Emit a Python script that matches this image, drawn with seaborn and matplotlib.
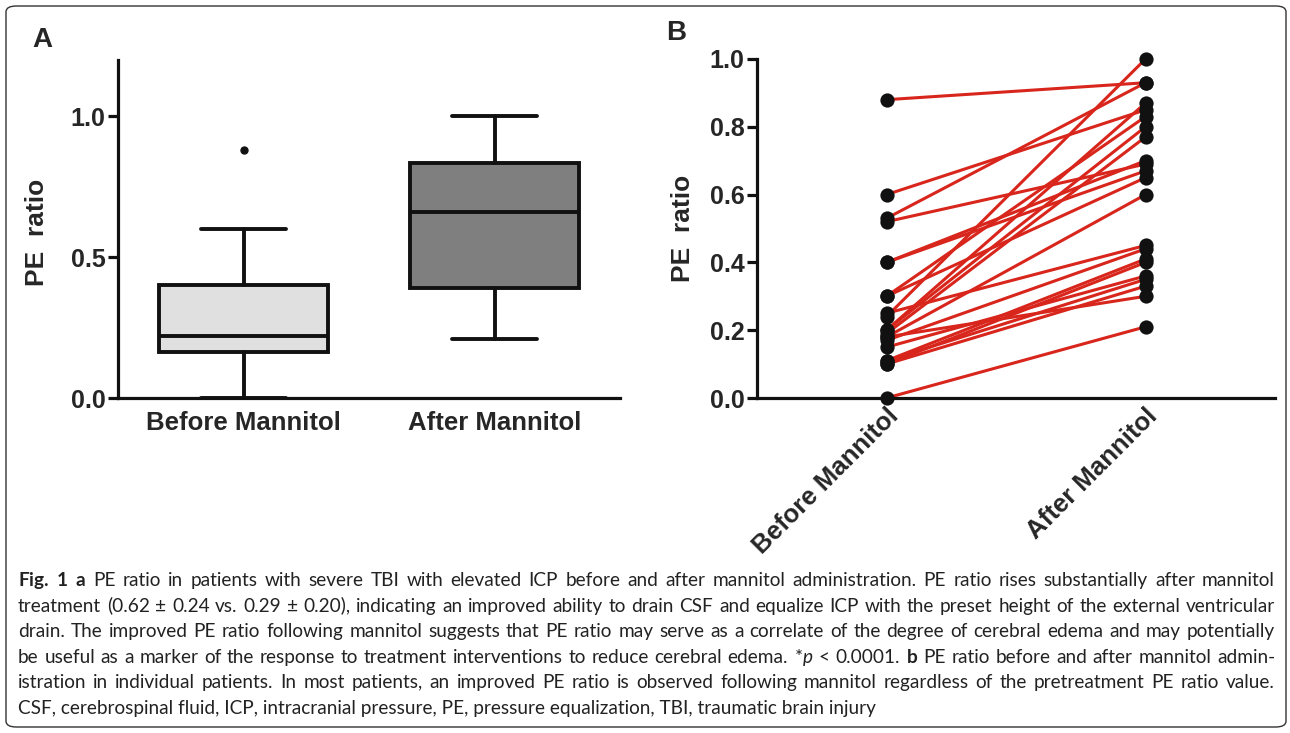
import numpy as np
import pandas as pd
import seaborn as sns
import matplotlib
matplotlib.use('Agg')
from matplotlib import pyplot as plt
from matplotlib.patches import FancyBboxPatch

groups = ['Before Mannitol', 'After Mannitol']

# panel A - box summary
box_low = [0.00, 0.21]
box_q1 = [0.165, 0.39]
box_med = [0.22, 0.66]
box_q3 = [0.40, 0.835]
box_high = [0.60, 1.00]
box_fliers = [[0.88], []]
box_colors = ['#e0e0e0', '#7f7f7f']

# panel B - paired values per patient
before = [0.88, 0.60, 0.53, 0.52, 0.40, 0.40, 0.30, 0.30, 0.25, 0.24, 0.20,
          0.20, 0.19, 0.18, 0.18, 0.17, 0.15, 0.11, 0.11, 0.10, 0.10, 0.00]
after = [0.93, 0.85, 0.93, 0.69, 0.70, 0.67, 0.83, 0.65, 0.45, 1.00, 0.87,
         0.80, 0.77, 0.60, 0.30, 0.44, 0.36, 0.41, 0.35, 0.40, 0.33, 0.21]

yticks_a = [0.0, 0.5, 1.0]
yticks_b = [0.0, 0.2, 0.4, 0.6, 0.8, 1.0]

caption_lines = [
    r"$\mathbf{Fig.}$ $\mathbf{1}$  $\mathbf{a}$ PE ratio in patients with severe TBI with elevated ICP before and after mannitol administration. PE ratio rises substantially after mannitol",
    "treatment (0.62 ± 0.24 vs. 0.29 ± 0.20), indicating an improved ability to drain CSF and equalize ICP with the preset height of the external ventricular",
    "drain. The improved PE ratio following mannitol suggests that PE ratio may serve as a correlate of the degree of cerebral edema and may potentially",
    r"be useful as a marker of the response to treatment interventions to reduce cerebral edema. *$\mathit{p}$ < 0.0001. $\mathbf{b}$ PE ratio before and after mannitol admin-",
    "istration in individual patients. In most patients, an improved PE ratio is observed following mannitol regardless of the pretreatment PE ratio value.",
    "CSF, cerebrospinal fluid, ICP, intracranial pressure, PE, pressure equalization, TBI, traumatic brain injury",
]

sns.set_theme(style='ticks')
plt.rcParams['font.family'] = ['Liberation Sans', 'DejaVu Sans']
cap_font = 'Lato'
plt.rcParams['mathtext.fontset'] = 'custom'
plt.rcParams['mathtext.rm'] = cap_font
plt.rcParams['mathtext.bf'] = cap_font + ':bold'
plt.rcParams['mathtext.it'] = cap_font + ':italic'

W, H = 1290, 733
fig = plt.figure(figsize=(W / 100, H / 100), dpi=100)
ink = '#111111'

def frame(ax):
    sns.despine(ax=ax)
    for s in ['left', 'bottom']:
        ax.spines[s].set_linewidth(2.3)
        ax.spines[s].set_color(ink)
    ax.tick_params(axis='y', length=7, width=2.3, color=ink, labelsize=18, pad=2)
    ax.tick_params(axis='x', length=0)
    for t in ax.get_yticklabels():
        t.set_fontweight('bold')

# ---- panel A
axA = fig.add_axes([118 / W, 1 - 398 / H, (620 - 118) / W, (398 - 60) / H])
stats = [dict(med=box_med[i], q1=box_q1[i], q3=box_q3[i], whislo=box_low[i],
              whishi=box_high[i], fliers=box_fliers[i], label=groups[i]) for i in range(2)]
lp = dict(linewidth=2.8, color=ink)
bp = axA.bxp(stats, positions=[0, 1], widths=0.67, patch_artist=True, capwidths=0.34,
             boxprops=dict(linewidth=2.8, edgecolor=ink), medianprops=lp,
             whiskerprops=lp, capprops=lp,
             flierprops=dict(marker='o', markerfacecolor=ink, markeredgecolor=ink, markersize=5))
for patch, c in zip(bp['boxes'], box_colors):
    patch.set_facecolor(c)
axA.set_xlim(-0.5, 1.5)
axA.set_ylim(0, 1.2)
axA.set_yticks(yticks_a)
axA.set_yticklabels(['%.1f' % v for v in yticks_a])
axA.set_xticks([0, 1])
axA.set_xticklabels(groups, fontsize=18.5, fontweight='bold')
axA.tick_params(axis='x', pad=9)
frame(axA)
for t in axA.get_xticklabels():
    t.set_fontweight('bold')

# ---- panel B
axB = fig.add_axes([757 / W, 1 - 398 / H, (1275 - 757) / W, (398 - 59) / H])
n = len(before)
df = pd.DataFrame({'pid': list(range(n)) * 2,
                   'pos': [0] * n + [1] * n,
                   'value': before + after})
sns.lineplot(data=df, x='pos', y='value', units='pid', estimator=None, sort=False,
             color='#d8261c', linewidth=2.2, ax=axB, legend=False)
sns.scatterplot(data=df, x='pos', y='value', color=ink, s=105, edgecolor=ink,
                linewidth=0, ax=axB, legend=False, zorder=5)
for c in axB.collections:
    c.set_clip_on(False)
axB.set_xlim(-0.5, 1.5)
axB.set_ylim(0, 1.0)
axB.set_yticks(yticks_b)
axB.set_yticklabels(['%.1f' % v for v in yticks_b])
axB.set_xticks([0, 1])
axB.set_xticklabels(groups, fontsize=18.5, fontweight='bold',
                    rotation=45, ha='right', va='top', rotation_mode='anchor')
axB.tick_params(axis='x', pad=4)
axB.set_xlabel('')
axB.set_ylabel('')
frame(axB)

# labels
fig.text(37 / W, 1 - 232 / H, 'PE  ratio', rotation=90, ha='center', va='center',
         fontsize=19, fontweight='bold')
fig.text(683 / W, 1 - 228 / H, 'PE  ratio', rotation=90, ha='center', va='center',
         fontsize=19, fontweight='bold')
fig.text(42 / W, 1 - 40 / H, 'A', ha='center', va='center', fontsize=20, fontweight='bold')
fig.text(676 / W, 1 - 33 / H, 'B', ha='center', va='center', fontsize=20, fontweight='bold')

# caption, justified; size chosen so the widest full line just fits
fig.canvas.draw()
r = fig.canvas.get_renderer()
x0, x1 = 18, 1275
widest = 0
for line in caption_lines[:-1]:
    probe = fig.text(0, 0, line, fontsize=14, family=cap_font)
    widest = max(widest, probe.get_window_extent(r).width)
    probe.remove()
cap_fs = 14 * (x1 - x0) / widest * 0.99
for i, line in enumerate(caption_lines):
    yb = 1 - (586 + 25.6 * i) / H
    if i == len(caption_lines) - 1:
        fig.text(x0 / W, yb, line, fontsize=cap_fs, va='baseline', color='#222222',
                 family=cap_font)
        continue
    words = [w for w in line.split(' ') if w]
    objs = [fig.text(0, yb, w, fontsize=cap_fs, va='baseline', color='#222222',
                     family=cap_font) for w in words]
    widths = [o.get_window_extent(r).width for o in objs]
    gap = (x1 - x0 - sum(widths)) / (len(words) - 1)
    x = x0
    for o, w in zip(objs, widths):
        o.set_x(x / W)
        x += w + gap

fig.patches.append(FancyBboxPatch((6 / W, 6 / H), (1286 - 6) / W, (727 - 6) / H,
                                  boxstyle='round,pad=0,rounding_size=0.008',
                                  transform=fig.transFigure, fill=False,
                                  edgecolor='#333333', linewidth=1.0))

fig.savefig('out.png', dpi=100)
